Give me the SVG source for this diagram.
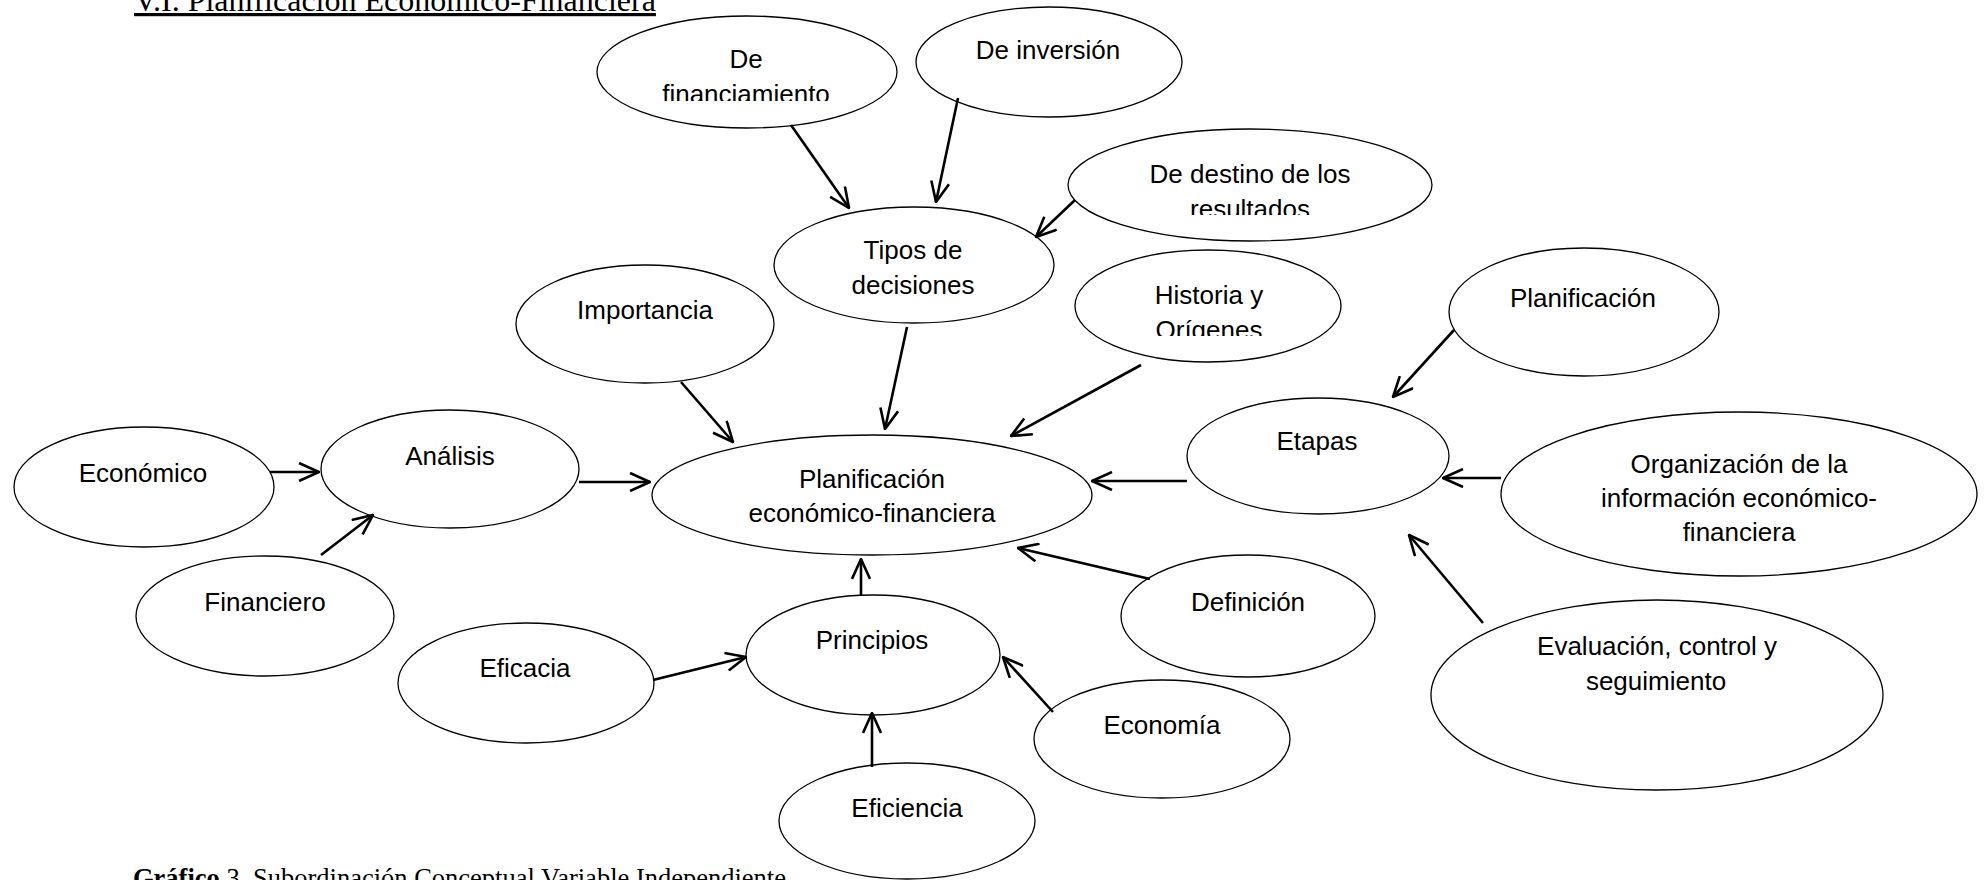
<svg xmlns="http://www.w3.org/2000/svg" width="1986" height="880" viewBox="0 0 1986 880">
<style>
.n{fill:#fff;stroke:#000;stroke-width:1.3}
.t{font-family:"Liberation Sans",Arial,sans-serif;font-size:26px;fill:#000;text-anchor:middle}
.c line{stroke:#000;stroke-width:2.6;fill:none;marker-end:url(#ah)}
.cap{font-family:"Liberation Serif","Times New Roman",serif;fill:#000}
</style>
<defs>
<marker id="ah" viewBox="0 0 22 20" refX="21" refY="10" markerWidth="22" markerHeight="20" markerUnits="userSpaceOnUse" orient="auto">
<path d="M1,1 L21,10 L1,19" fill="none" stroke="#000" stroke-width="2.6"/>
</marker>
<clipPath id="cpFin"><rect x="590" y="0" width="320" height="101"/></clipPath>
<clipPath id="cpDest"><rect x="1060" y="120" width="380" height="95"/></clipPath>
<clipPath id="cpHist"><rect x="1070" y="240" width="280" height="96"/></clipPath>
</defs>
<rect width="1986" height="880" fill="#fff"/>
<text class="cap" x="134" y="11" font-size="32" text-decoration="underline">V.I. Planificación Económico-Financiera</text>
<g id="n-definan"><ellipse class="n" cx="747" cy="72" rx="150" ry="56"/><g clip-path="url(#cpFin)"><text class="t" x="746" y="68">De</text><text class="t" x="746" y="103">financiamiento</text></g></g>
<g id="n-inversion"><ellipse class="n" cx="1049" cy="62" rx="133" ry="55"/><text class="t" x="1048" y="59">De inversión</text></g>
<g id="n-destino"><ellipse class="n" cx="1250" cy="185" rx="182" ry="56"/><g clip-path="url(#cpDest)"><text class="t" x="1250" y="183">De destino de los</text><text class="t" x="1250" y="218">resultados</text></g></g>
<g id="n-tipos"><ellipse class="n" cx="914" cy="265" rx="140" ry="58"/><text class="t" x="913" y="259">Tipos de</text><text class="t" x="913" y="294">decisiones</text></g>
<g id="n-importancia"><ellipse class="n" cx="645" cy="324" rx="129" ry="59"/><text class="t" x="645" y="319">Importancia</text></g>
<g id="n-historia"><ellipse class="n" cx="1208" cy="306" rx="133" ry="56"/><g clip-path="url(#cpHist)"><text class="t" x="1209" y="304">Historia y</text><text class="t" x="1209" y="339">Orígenes</text></g></g>
<g id="n-planif2"><ellipse class="n" cx="1584" cy="312" rx="135" ry="64"/><text class="t" x="1583" y="307">Planificación</text></g>
<g id="n-economico"><ellipse class="n" cx="144" cy="487" rx="130" ry="60"/><text class="t" x="143" y="482">Económico</text></g>
<g id="n-analisis"><ellipse class="n" cx="450" cy="469" rx="129" ry="59"/><text class="t" x="450" y="465">Análisis</text></g>
<g id="n-central"><ellipse class="n" cx="872" cy="495" rx="220" ry="60"/><text class="t" x="872" y="488">Planificación</text><text class="t" x="872" y="522">económico-financiera</text></g>
<g id="n-etapas"><ellipse class="n" cx="1318" cy="456" rx="131" ry="58"/><text class="t" x="1317" y="450">Etapas</text></g>
<g id="n-organizacion"><ellipse class="n" cx="1739" cy="494" rx="238" ry="82"/><text class="t" x="1739" y="473">Organización de la</text><text class="t" x="1739" y="507">información económico-</text><text class="t" x="1739" y="541">financiera</text></g>
<g id="n-financiero"><ellipse class="n" cx="265" cy="616" rx="129" ry="60"/><text class="t" x="265" y="611">Financiero</text></g>
<g id="n-definicion"><ellipse class="n" cx="1248" cy="616" rx="127" ry="61"/><text class="t" x="1248" y="611">Definición</text></g>
<g id="n-eficacia"><ellipse class="n" cx="526" cy="683" rx="128" ry="60"/><text class="t" x="525" y="677">Eficacia</text></g>
<g id="n-principios"><ellipse class="n" cx="873" cy="655" rx="127" ry="60"/><text class="t" x="872" y="649">Principios</text></g>
<g id="n-economia"><ellipse class="n" cx="1162" cy="739" rx="128" ry="59"/><text class="t" x="1162" y="734">Economía</text></g>
<g id="n-evaluacion"><ellipse class="n" cx="1657" cy="695" rx="226" ry="95"/><text class="t" x="1657" y="655">Evaluación, control y</text><text class="t" x="1656" y="690">seguimiento</text></g>
<g id="n-eficiencia"><ellipse class="n" cx="907" cy="821" rx="128" ry="58"/><text class="t" x="907" y="817">Eficiencia</text></g>
<g id="connectors" class="c">
<line x1="791" y1="125" x2="849" y2="208"/>
<line x1="958" y1="98" x2="936" y2="202"/>
<line x1="1075" y1="200" x2="1036" y2="237"/>
<line x1="907" y1="327" x2="885" y2="429"/>
<line x1="681" y1="382" x2="733" y2="442"/>
<line x1="1141" y1="365" x2="1011" y2="436"/>
<line x1="270" y1="472" x2="319" y2="472"/>
<line x1="321" y1="555" x2="373" y2="515"/>
<line x1="579" y1="482" x2="650" y2="482"/>
<line x1="1187" y1="481" x2="1092" y2="481"/>
<line x1="1150" y1="579" x2="1018" y2="548"/>
<line x1="861" y1="595" x2="861" y2="559"/>
<line x1="653" y1="680" x2="746" y2="657"/>
<line x1="1053" y1="712" x2="1003" y2="657"/>
<line x1="872" y1="767" x2="872" y2="713"/>
<line x1="1454" y1="330" x2="1393" y2="397"/>
<line x1="1501" y1="478" x2="1443" y2="478"/>
<line x1="1483" y1="623" x2="1409" y2="535"/>
</g>
<text class="cap" x="133" y="887" font-size="26.5"><tspan font-weight="bold">Gráfico</tspan> 3. Subordinación Conceptual Variable Independiente</text>
</svg>
